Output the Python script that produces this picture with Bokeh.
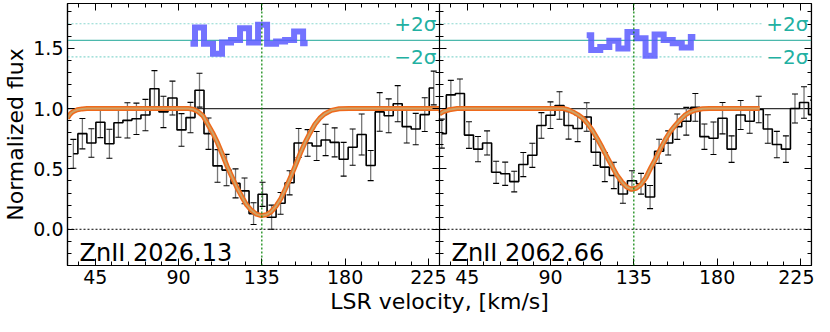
from bokeh.plotting import figure
from bokeh.models import (Range1d, LinearAxis, FixedTicker, PrintfTickFormatter,
                          CustomJSTickFormatter, Span, Whisker, TeeHead, ColumnDataSource)
from bokeh.core.properties import value
from bokeh.embed import file_html
from bokeh.resources import INLINE

FONT = "DejaVu Sans"

# ---------------- axes / layout values ----------------
x_start, x_end = 30.0, 231.0
y_start, y_end = -0.3, 1.87
x_major = [45, 90, 135, 180, 225]
y_major = [0.0, 0.5, 1.0, 1.5]
y_minor = [-0.2, -0.1, 0.1, 0.2, 0.3, 0.4, 0.6, 0.7, 0.8, 0.9, 1.1, 1.2, 1.3, 1.4, 1.6, 1.7, 1.8]
panel_labels = ["ZnII 2026.13", "ZnII 2062.66"]
label_x, label_y = 36.5, -0.195
line_center_v = 135.0
resid_center = 1.565
resid_2sigma = 0.137
sigma_text_x = 206.5
sigma_line_end = 204.0
sigma_texts = ["+2σ", "−2σ"]

# ---------------- left panel: ZnII 2026 ----------------
left_v = [33.17, 38.04, 42.91, 47.77, 52.64, 57.51, 62.38, 67.25, 72.11, 76.98,
          81.85, 86.72, 91.59, 96.45, 101.32, 106.19, 111.06, 115.93, 120.79, 125.66,
          130.53, 135.40, 140.27, 145.13, 150.00, 154.87, 159.74, 164.61, 169.47, 174.34,
          179.21, 184.08, 188.95, 193.81, 198.68, 203.55, 208.42, 213.29, 218.15, 223.02,
          227.89]
left_flux = [0.625, 0.792, 0.715, 0.887, 0.708, 0.882, 0.902, 0.915, 0.946, 1.164,
             0.972, 1.087, 0.823, 0.925, 1.152, 0.792, 0.525, 0.490, 0.380, 0.318,
             0.130, 0.290, 0.100, 0.215, 0.385, 0.715, 0.715, 0.690, 0.740, 0.720,
             0.580, 0.680, 0.785, 0.528, 0.972, 0.940, 1.040, 0.850, 0.830, 0.950,
             1.170]
left_err = [0.120, 0.126, 0.118, 0.128, 0.120, 0.120, 0.146, 0.130, 0.130, 0.150,
            0.130, 0.140, 0.135, 0.126, 0.140, 0.130, 0.135, 0.130, 0.120, 0.107,
            0.090, 0.100, 0.100, 0.090, 0.100, 0.120, 0.110, 0.120, 0.130, 0.120,
            0.140, 0.150, 0.170, 0.125, 0.160, 0.140, 0.150, 0.135, 0.130, 0.140,
            0.140]
left_model_v = [30.0, 31.0, 32.1, 33.5, 35.3, 38.0, 40.5, 95.3, 97.9, 100.5, 103.2, 105.8,
                108.4, 111.1, 113.7, 116.3, 119.0, 121.6, 124.2, 126.8, 129.5, 132.1,
                134.7, 137.4, 140.0, 142.6, 145.3, 147.9, 150.5, 153.2, 155.8, 158.4,
                161.1, 163.7, 166.3, 168.9, 172.6, 176.8, 182.1, 231.0]
left_model_flux = [0.920, 0.945, 0.965, 0.978, 0.990, 0.997, 1.000, 1.000, 0.995, 0.975,
                   0.940, 0.870, 0.800, 0.715, 0.620, 0.520, 0.430, 0.344, 0.270, 0.202,
                   0.155, 0.125, 0.113, 0.120, 0.145, 0.190, 0.255, 0.340, 0.430, 0.530,
                   0.630, 0.720, 0.800, 0.870, 0.920, 0.955, 0.985, 0.998, 1.000, 1.000]
left_resid = [1.536, 1.672, 1.536, 1.454, 1.548, 1.567, 1.664, 1.548, 1.695, 1.536,
              1.556, 1.567, 1.638, 1.541]
left_resid_v = left_v[13:27]

# ---------------- right panel: ZnII 2062 ----------------
right_v = [31.24, 36.13, 41.03, 45.92, 50.81, 55.71, 60.60, 65.49, 70.38, 75.28,
           80.17, 85.06, 89.96, 94.85, 99.74, 104.64, 109.53, 114.42, 119.31, 124.21,
           129.10, 133.99, 138.89, 143.78, 148.67, 153.57, 158.46, 163.35, 168.24, 173.14,
           178.03, 182.92, 187.82, 192.71, 197.60, 202.49, 207.39, 212.28, 217.17, 222.07,
           226.96, 231.85]
right_flux = [0.792, 1.113, 1.125, 0.780, 0.664, 0.715, 0.472, 0.460, 0.395, 0.536,
              0.613, 0.860, 0.945, 1.025, 0.860, 0.835, 0.930, 0.638, 0.515, 0.446,
              0.292, 0.402, 0.377, 0.267, 0.646, 0.715, 0.850, 0.895, 1.010, 0.767,
              0.754, 0.920, 0.664, 0.946, 0.895, 0.992, 0.831, 0.702, 0.664, 1.000,
              1.050, 0.950]
right_err = [0.120, 0.120, 0.120, 0.110, 0.105, 0.100, 0.092, 0.096, 0.085, 0.100,
             0.100, 0.106, 0.110, 0.114, 0.113, 0.109, 0.118, 0.109, 0.120, 0.109,
             0.077, 0.083, 0.086, 0.096, 0.100, 0.100, 0.105, 0.115, 0.115, 0.105,
             0.135, 0.130, 0.110, 0.120, 0.100, 0.110, 0.118, 0.109, 0.110, 0.120,
             0.130, 0.120]
right_model_v = [30.0, 32.1, 35.3, 39.5, 96.8, 99.5, 102.1, 104.7, 107.4, 110.0, 112.6,
                 115.3, 117.9, 120.5, 123.2, 125.8, 128.4, 131.1, 133.7, 136.3, 138.9,
                 141.6, 144.2, 146.8, 149.5, 152.1, 154.7, 157.4, 160.0, 162.6, 165.3,
                 167.9, 172.1, 175.8, 203.0]
right_model_flux = [0.955, 0.975, 0.990, 1.000, 1.000, 0.990, 0.972, 0.950, 0.920, 0.875,
                    0.820, 0.750, 0.677, 0.600, 0.523, 0.450, 0.395, 0.350, 0.332, 0.340,
                    0.370, 0.430, 0.510, 0.585, 0.670, 0.745, 0.810, 0.860, 0.905, 0.945,
                    0.970, 0.985, 0.998, 1.000, 1.000]
right_resid = [1.608, 1.485, 1.510, 1.562, 1.497, 1.633, 1.582, 1.438, 1.613, 1.567,
               1.541, 1.505, 1.592]
right_resid_v = right_v[16:29]

# ---------------- build ----------------
offset = x_end - x_start          # right panel drawn after the left one


def shift(vals):
    return [v + offset for v in vals]


p = figure(width=814, height=316,
           x_range=Range1d(x_start, x_end + offset), y_range=Range1d(y_start, y_end),
           output_backend="svg", toolbar_location=None,
           min_border_left=2, min_border_right=3, min_border_top=3, min_border_bottom=2)
p.xgrid.visible = False
p.ygrid.visible = False
p.outline_line_color = "black"
p.outline_line_width = 1.2
p.background_fill_color = "white"
p.border_fill_color = "white"

# tickers
x_minor_one = [t for t in range(36, int(x_end), 9) if t not in x_major]
xt_major = x_major + [int(t + offset) for t in x_major]
xt_minor = x_minor_one + [int(t + offset) for t in x_minor_one]
xticker = FixedTicker(ticks=xt_major, minor_ticks=xt_minor)
yticker = FixedTicker(ticks=y_major, minor_ticks=y_minor)

xa = p.xaxis[0]
xa.ticker = xticker
xa.major_label_overrides = {int(t + offset): str(t) for t in x_major}
ya = p.yaxis[0]
ya.ticker = yticker
ya.formatter = PrintfTickFormatter(format="%.1f")

for ax in (xa, ya):
    ax.major_tick_in = 7
    ax.major_tick_out = 0
    ax.minor_tick_in = 4
    ax.minor_tick_out = 0
    ax.major_tick_line_color = "black"
    ax.minor_tick_line_color = "black"
    ax.axis_line_color = "black"
    ax.axis_line_width = 1.2
    ax.major_label_text_font = FONT
    ax.major_label_text_font_size = "19px"
    ax.major_label_text_color = "black"
    ax.axis_label_text_font = FONT
    ax.axis_label_text_font_size = "22px"
    ax.axis_label_text_font_style = "normal"
    ax.axis_label_text_color = "black"
    ax.major_label_standoff = 4
    ax.axis_label_standoff = 2

xa.axis_label = "LSR velocity, [km/s]"
ya.axis_label = "Normalized flux"


def edge_axis(loc, ticker, both=False):
    return LinearAxis(fixed_location=loc, ticker=ticker,
                      formatter=CustomJSTickFormatter(code="return ''"),
                      major_tick_in=7, major_tick_out=7 if both else 0,
                      minor_tick_in=4, minor_tick_out=4 if both else 0,
                      major_tick_line_color="black", minor_tick_line_color="black",
                      axis_line_color="black", axis_line_width=1.2,
                      major_label_standoff=0, major_label_text_font_size="0px")


p.add_layout(edge_axis(y_end, xticker), "above")
p.add_layout(edge_axis(x_end + offset, yticker), "right")
p.add_layout(edge_axis(x_end, yticker, both=True), "left")

# reference lines
p.add_layout(Span(location=1.0, dimension="width", line_color="#333333",
                  line_width=1.3, level="underlay"))
p.add_layout(Span(location=0.0, dimension="width", line_color="black",
                  line_width=1.0, line_dash="2 2", level="underlay"))
p.add_layout(Span(location=resid_center, dimension="width", line_color="#4bb8ac",
                  line_width=1.2, level="underlay"))
plus, minus = resid_center + resid_2sigma, resid_center - resid_2sigma
p.segment(x0=[x_start, x_start + offset, x_start, x_start + offset],
          x1=[sigma_line_end, sigma_line_end + offset, sigma_line_end, sigma_line_end + offset],
          y0=[plus, plus, minus, minus], y1=[plus, plus, minus, minus],
          line_color="#8ad8d0", line_width=1.1, line_dash="2 2")
p.text(x=[sigma_text_x, sigma_text_x + offset, sigma_text_x, sigma_text_x + offset],
       y=[plus, plus, minus, minus],
       text=[sigma_texts[0], sigma_texts[0], sigma_texts[1], sigma_texts[1]],
       text_font=value(FONT), text_font_size="20px", text_color="#22b0a2",
       text_baseline="middle", text_align="left")

# data: error bars + step histograms
for xs, fl, er in ((left_v, left_flux, left_err), (shift(right_v), right_flux, right_err)):
    src = ColumnDataSource(dict(x=xs, upper=[f + e for f, e in zip(fl, er)],
                                lower=[f - e for f, e in zip(fl, er)]))
    p.add_layout(Whisker(base="x", upper="upper", lower="lower", source=src,
                         line_color="#777777", line_width=1.3,
                         upper_head=TeeHead(size=6, line_color="black", line_width=1.1),
                         lower_head=TeeHead(size=6, line_color="black", line_width=1.1)))
    p.step(xs, fl, mode="center", line_color="black", line_width=1.6)

# model bands
for mv, mf in ((left_model_v, left_model_flux), (shift(right_model_v), right_model_flux)):
    p.line(mv, mf, line_color="#ef6a1c", line_width=5.0, line_join="round")
    p.line(mv, mf, line_color="#cfa266", line_width=2.0, line_join="round")

# residuals
for rv, rr in ((left_resid_v, left_resid), (shift(right_resid_v), right_resid)):
    p.step(rv, rr, mode="center", line_color="#5a5aff", line_width=6, line_alpha=0.85,
           line_join="miter")

# line centre markers
for loc in (line_center_v, line_center_v + offset):
    p.add_layout(Span(location=loc, dimension="height", line_color="green",
                      line_width=1.2, line_dash="2 2"))

# panel labels
p.text(x=[label_x, label_x + offset], y=[label_y, label_y], text=panel_labels,
       text_font=value(FONT), text_font_size="24px", text_color="black",
       text_baseline="alphabetic", text_align="left")

open("out.html", "w").write(file_html(p, INLINE))
